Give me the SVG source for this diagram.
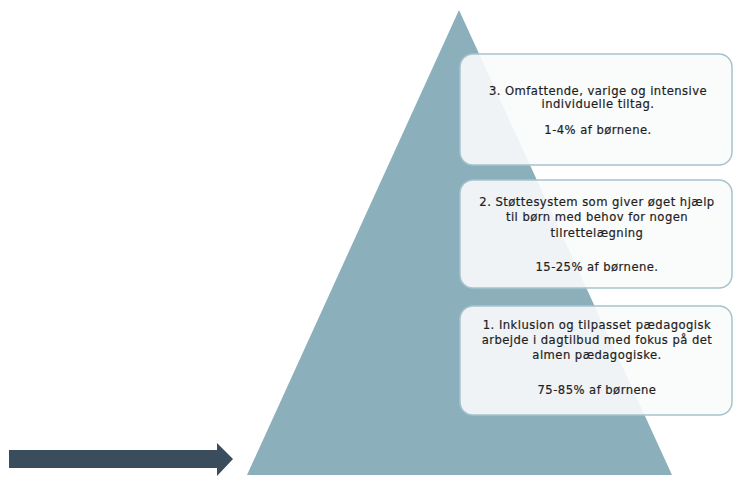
<svg xmlns="http://www.w3.org/2000/svg" width="734" height="477" viewBox="0 0 734 477">
<style>
.box{fill:#fafbfb;fill-opacity:0.9;stroke:#a6c3cd;stroke-width:1.5}
.t{font-family:"DejaVu Sans",sans-serif;font-size:11.6px;letter-spacing:0.45px;fill:#1e1e1e;text-anchor:middle;stroke:#1e1e1e;stroke-width:0.2}
</style>
<rect width="734" height="477" fill="#ffffff"/>
<g id="pyramid"><polygon points="459,10 672,475 247,475" fill="#8bb0bc"/></g>
<g id="box3">
<rect class="box" x="460" y="54" width="272" height="111" rx="13"/>
<text class="t" x="598" y="95">3. Omfattende, varige og intensive</text>
<text class="t" x="598" y="108">individuelle tiltag.</text>
<text class="t" x="598" y="134">1-4% af børnene.</text>
</g>
<g id="box2">
<rect class="box" x="460" y="180" width="272" height="108" rx="13"/>
<text class="t" x="597" y="206">2. Støttesystem som giver øget hjælp</text>
<text class="t" x="597" y="221">til børn med behov for nogen</text>
<text class="t" x="597" y="237">tilrettelægning</text>
<text class="t" x="597" y="271">15-25% af børnene.</text>
</g>
<g id="box1">
<rect class="box" x="460" y="306" width="272" height="109" rx="13"/>
<text class="t" x="597" y="329">1. Inklusion og tilpasset pædagogisk</text>
<text class="t" x="597" y="344">arbejde i dagtilbud med fokus på det</text>
<text class="t" x="597" y="359">almen pædagogiske.</text>
<text class="t" x="597" y="394">75-85% af børnene</text>
</g>
<g id="connectors">
<polygon points="9,450 217,450 217,443 233,459 217,476 217,468 9,468" fill="#3a4d5c"/>
</g>
</svg>
